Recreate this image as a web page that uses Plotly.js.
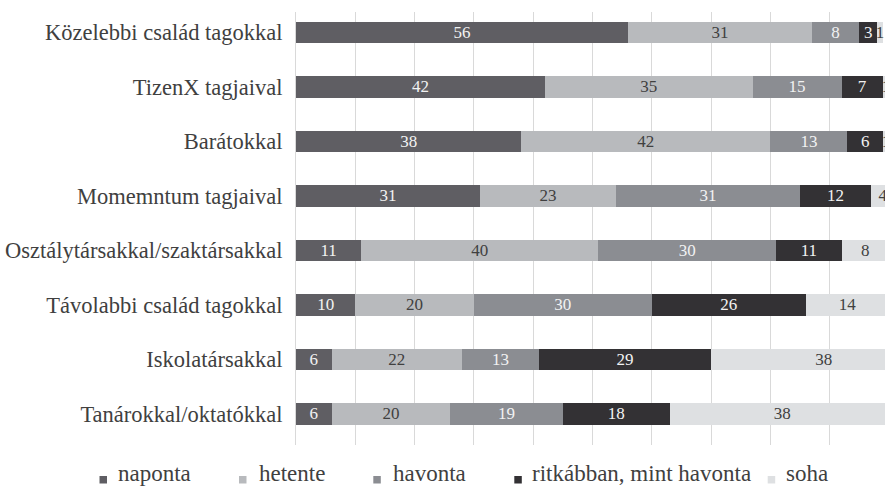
<!DOCTYPE html>
<html>
<head>
<meta charset="utf-8">
<script src="https://cdn.plot.ly/plotly-3.0.1.min.js"></script>
<style>html,body{margin:0;padding:0;background:#fff;}#chart{width:885px;height:488px;}</style>
</head>
<body>
<div id="chart"></div>
<script>
// ---- data ----
const categories = ["Közelebbi család tagokkal","TizenX tagjaival","Barátokkal","Momemntum tagjaival","Osztálytársakkal/szaktársakkal","Távolabbi család tagokkal","Iskolatársakkal","Tanárokkal/oktatókkal"];
const seriesNames = ["naponta","hetente","havonta","ritkábban, mint havonta","soha"];
const naponta   = [56,42,38,31,11,10,6,6];
const hetente   = [31,35,42,23,40,20,22,20];
const havonta   = [8,15,13,31,30,30,13,19];
const ritkabban = [3,7,6,12,11,26,29,18];
const soha      = [1,1,1,4,8,14,38,38];

// ---- styles ----
const colors = ["#5f5e63","#b8babd","#8b8d92","#333134","#dee0e2"];
const textColors = ["#f2f2f2","#404040","#f2f2f2","#f2f2f2","#404040"];
const FONT = "'Liberation Serif'";
const W = 885, H = 488, L = 296, R = 0, T = 12, B = 43;
const plotW = W - L - R, plotH = H - T - B;

const values = [naponta, hetente, havonta, ritkabban, soha];
const traces = values.map((v, i) => ({
  type: "bar",
  orientation: "h",
  name: seriesNames[i],
  y: categories,
  x: v,
  text: v.map(String),
  texttemplate: "%{text}",
  textposition: "inside",
  insidetextanchor: "middle",
  constraintext: "none",
  textangle: 0,
  textfont: {family: FONT, size: 17, color: textColors[i]},
  marker: {color: colors[i], line: {width: 0}},
  hoverinfo: "skip",
  showlegend: false
}));

// custom legend (positions in pixels converted to paper coords)
const legMarkerX = [99.5, 239, 373.3, 514.3, 767.7];
const legTextX = [116.4, 257, 391, 530, 784.3];
const px2x = p => (p - L) / plotW;
const py2y = p => (H - B - p) / plotH;
const shapes = [], annotations = [];
seriesNames.forEach((n, i) => {
  shapes.push({type: "rect", xref: "paper", yref: "paper",
    x0: px2x(legMarkerX[i]), x1: px2x(legMarkerX[i] + 7.5),
    y0: py2y(483.5), y1: py2y(476),
    fillcolor: colors[i], line: {width: 0}});
  annotations.push({xref: "paper", yref: "paper", x: px2x(legTextX[i]), y: py2y(473),
    xanchor: "left", yanchor: "middle", showarrow: false, text: n,
    font: {family: FONT, size: 23, color: "#404040"}});
});

const layout = {
  width: W, height: H,
  font: {family: FONT},
  margin: {l: L, r: R, t: T, b: B},
  paper_bgcolor: "#fff", plot_bgcolor: "#fff",
  barmode: "stack",
  bargap: 0.6,
  showlegend: false,
  xaxis: {range: [0, 99.33], tick0: 0, dtick: 10, showticklabels: false, ticks: "",
    showgrid: true, gridcolor: "#d9d9d9", gridwidth: 1, zeroline: false, showline: false, fixedrange: true},
  yaxis: {type: "category", autorange: false, range: [7.569, -0.376], showgrid: false,
    showline: true, linecolor: "#d9d9d9", linewidth: 1, ticks: "", ticklabelstandoff: 8,
    tickfont: {family: FONT, size: 22.5, color: "#404040"}, fixedrange: true},
  shapes: shapes,
  annotations: annotations
};

Plotly.newPlot("chart", traces, layout, {staticPlot: true, displayModeBar: false});
</script>
</body>
</html>
